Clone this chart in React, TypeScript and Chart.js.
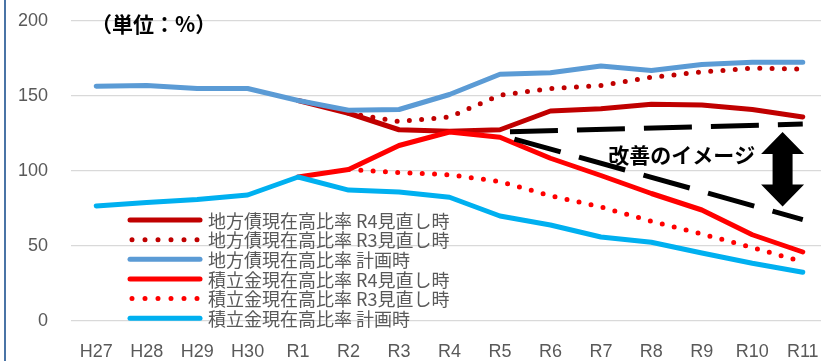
import React, { useEffect, useRef } from 'react';
import { Chart, registerables } from 'chart.js';

Chart.register(...registerables);

const categories = ['H27', 'H28', 'H29', 'H30', 'R1', 'R2', 'R3', 'R4', 'R5', 'R6', 'R7', 'R8', 'R9', 'R10', 'R11'];

const seriesNames = [
  '地方債現在高比率 R4見直し時',
  '地方債現在高比率 R3見直し時',
  '地方債現在高比率 計画時',
  '積立金現在高比率 R4見直し時',
  '積立金現在高比率 R3見直し時',
  '積立金現在高比率 計画時',
];

const chihousaiR4 = [null, null, null, null, 147, 138.5, 127.5, 126.5, 127.5, 140, 141.5, 144.5, 144, 141, 136];
const chihousaiR3 = [null, null, null, null, null, 138.5, 133, 136, 150.5, 155, 157, 162.5, 166, 168.5, 168];
const chihousaiPlan = [156.5, 157, 155, 155, 147, 140.5, 141, 151, 164.5, 165.5, 170, 167, 171, 172.5, 172.5];
const tsumitateR4 = [null, null, null, null, 96, 101, 117, 126, 122.5, 108.5, 97, 85, 74, 57.5, 46];
const tsumitateR3 = [null, null, null, null, null, 101, 99, 97.5, 93, 83.5, 76, 66.5, 58, 49, 39.5];
const tsumitatePlan = [76.7, 79, 81, 84, 96, 87.3, 86, 82.5, 70, 64, 56, 52.5, 45.3, 38.5, 32.5];

// "改善のイメージ" guide lines (start at R5, end at R11)
const improveUpper = [null, null, null, null, null, null, null, null, 126, null, null, null, null, null, 131.3];
const improveLower = [null, null, null, null, null, null, null, null, 124, null, null, null, null, null, 67.6];

const yTicks = [0, 50, 100, 150, 200];

const unitLabel = '（単位：%）';
const imageLabel = '改善のイメージ';
const imageLabelPos = { index: 11.6, value: 110.7 };
const arrowPos = { index: 13.6, top: 126, bottom: 76.3 };

const colors = ['#C00000', '#C00000', '#5B9BD5', '#FF0000', '#FF0000', '#00B0F0'];
const dotted = [false, true, false, false, true, false];
const seriesData = [chihousaiR4, chihousaiR3, chihousaiPlan, tsumitateR4, tsumitateR3, tsumitatePlan];

const W = 828;
const H = 361;
const CJK = '"Noto Sans CJK JP", "Noto Sans", sans-serif';
const LAT = '"Liberation Sans", Arial, sans-serif';

export default function App() {
  const ref = useRef<HTMLCanvasElement>(null);

  useEffect(() => {
    const canvas = ref.current!;

    const overlay = {
      id: 'overlay',
      afterDraw(chart: any) {
        const ctx = chart.ctx as CanvasRenderingContext2D;
        const xs = chart.scales.x;
        const ys = chart.scales.y;
        const area = chart.chartArea;
        ctx.save();

        // unit label
        ctx.fillStyle = '#000';
        ctx.font = `bold 21px ${CJK}`;
        ctx.textAlign = 'left';
        ctx.textBaseline = 'middle';
        ctx.fillText(unitLabel, area.left + 20, area.top + 3);

        // improvement label
        ctx.font = `bold 21px ${CJK}`;
        ctx.textAlign = 'center';
        ctx.fillText(imageLabel, xs.getPixelForValue(imageLabelPos.index), ys.getPixelForValue(imageLabelPos.value));

        // double arrow
        const cx = xs.getPixelForValue(arrowPos.index);
        const t = ys.getPixelForValue(arrowPos.top);
        const b = ys.getPixelForValue(arrowPos.bottom);
        const hh = 22, hw = 21.5, sw = 10;
        ctx.beginPath();
        ctx.moveTo(cx, t);
        ctx.lineTo(cx + hw, t + hh);
        ctx.lineTo(cx + sw, t + hh);
        ctx.lineTo(cx + sw, b - hh);
        ctx.lineTo(cx + hw, b - hh);
        ctx.lineTo(cx, b);
        ctx.lineTo(cx - hw, b - hh);
        ctx.lineTo(cx - sw, b - hh);
        ctx.lineTo(cx - sw, t + hh);
        ctx.lineTo(cx - hw, t + hh);
        ctx.closePath();
        ctx.fill();

        // legend
        const lx = area.left + 59;
        const ly = area.top + 199;
        const rowH = 19.65;
        for (let i = 0; i < seriesNames.length; i++) {
          const y = ly + i * rowH;
          ctx.strokeStyle = colors[i];
          ctx.lineWidth = 5;
          ctx.lineCap = 'round';
          if (dotted[i]) {
            ctx.setLineDash([0, 13]);
            ctx.beginPath();
            ctx.moveTo(lx + 2, y);
            ctx.lineTo(lx + 68, y);
            ctx.stroke();
            ctx.setLineDash([]);
          } else {
            ctx.beginPath();
            ctx.moveTo(lx, y);
            ctx.lineTo(lx + 70, y);
            ctx.stroke();
          }
          ctx.fillStyle = '#595959';
          ctx.font = `18px ${CJK}`;
          ctx.textAlign = 'left';
          ctx.textBaseline = 'middle';
          ctx.fillText(seriesNames[i], lx + 78, y + 1);
        }
        ctx.restore();
      },
    };

    const datasets: any[] = seriesData.map((d, i) => ({
      label: seriesNames[i],
      data: d,
      borderColor: colors[i],
      backgroundColor: colors[i],
      borderWidth: 5,
      borderDash: dotted[i] ? [0, 12.3] : [],
      borderCapStyle: 'round',
      borderJoinStyle: 'round',
      pointRadius: 0,
      pointHoverRadius: 0,
      tension: 0,
      fill: false,
      order: 10 - i,
    }));
    datasets.push({
      label: 'upper',
      data: improveUpper,
      borderColor: '#000',
      borderWidth: 5,
      borderDash: [48, 19],
      borderDashOffset: 57,
      borderCapStyle: 'butt',
      pointRadius: 0,
      spanGaps: true,
      fill: false,
      order: 0,
    });
    datasets.push({
      label: 'lower',
      data: improveLower,
      borderColor: '#000',
      borderWidth: 5,
      borderDash: [48, 19],
      borderDashOffset: 52,
      borderCapStyle: 'butt',
      pointRadius: 0,
      spanGaps: true,
      fill: false,
      order: 0,
    });

    const chart = new Chart(canvas, {
      type: 'line',
      data: { labels: categories, datasets },
      options: {
        responsive: false,
        animation: false,
        devicePixelRatio: 1,
        layout: { padding: { top: 21, right: 0, left: 0, bottom: 0 } },
        plugins: { legend: { display: false }, tooltip: { enabled: false }, title: { display: false } },
        scales: {
          x: {
            offset: true,
            grid: { display: false, drawTicks: false },
            border: { display: false },
            ticks: {
              color: '#595959',
              font: { family: LAT, size: 18 },
              padding: 20,
              maxRotation: 0,
              autoSkip: false,
            },
            afterFit(scale: any) {
              scale.height = 40;
              scale.paddingLeft = 0;
              scale.paddingRight = 0;
            },
          },
          y: {
            min: 0,
            max: 200,
            afterBuildTicks(scale: any) {
              scale.ticks = yTicks.map((v) => ({ value: v }));
            },
            grid: { color: '#D9D9D9', lineWidth: 1.3, drawTicks: false },
            border: { display: false },
            ticks: {
              color: '#595959',
              font: { family: LAT, size: 18 },
              padding: 23,
            },
            afterFit(scale: any) {
              scale.width = 71;
              scale.paddingTop = 0;
              scale.paddingBottom = 0;
            },
          },
        },
      } as any,
      plugins: [overlay],
    });
    return () => chart.destroy();
  }, []);

  return (
    <div style={{ position: 'fixed', left: 0, top: 0, width: 821, height: 361, overflow: 'hidden', background: '#fff' }}>
      <canvas ref={ref} width={W} height={H} style={{ position: 'absolute', left: 0, top: 0, width: W, height: H }} />
      <div style={{ position: 'absolute', left: 4, top: 0, width: 2, height: 361, background: '#4A74A6' }} />
    </div>
  );
}
